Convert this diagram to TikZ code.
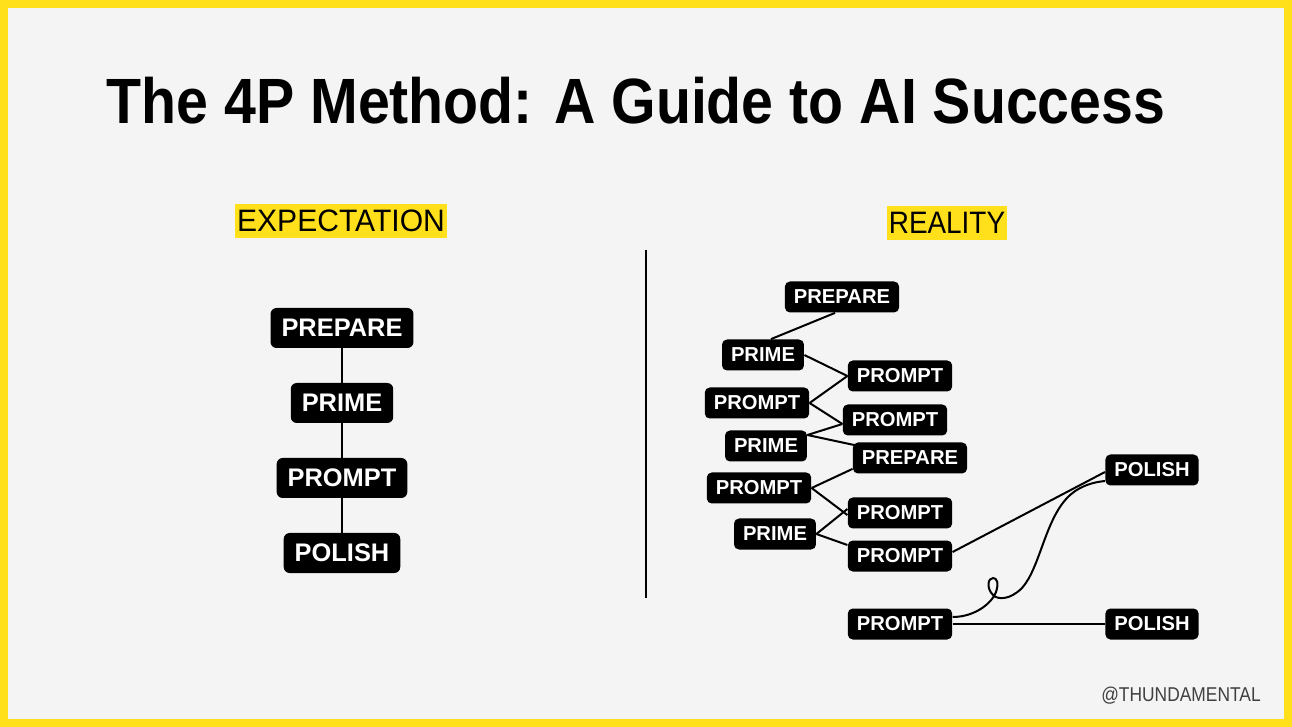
\documentclass[tikz,border=0pt]{standalone}
\usepackage{fontspec}
\setmainfont{Liberation Sans}
\usepackage{tikz}
\usetikzlibrary{positioning}
\definecolor{hlyellow}{HTML}{FFE01B}
\definecolor{bggray}{HTML}{F4F4F4}

\begin{document}
\begin{tikzpicture}[x=0.5pt, y=0.5pt,
    bigstep/.style={fill=black, text=white, rounded corners=3pt, font=\bfseries\fontsize{12.7}{14}\selectfont,
      minimum height=20pt, inner xsep=5.5pt, inner ysep=0pt},
    smallstep/.style={fill=black, text=white, rounded corners=2.5pt, font=\bfseries\fontsize{10.1}{12}\selectfont,
      minimum height=15.5pt, inner xsep=4.5pt, inner ysep=0pt},
    link/.style={line width=1pt},
    tag/.style={fill=hlyellow, font=\fontsize{15.5}{19}\selectfont, inner xsep=1pt, inner ysep=3pt}]
		% Frame and background
		\fill[hlyellow] (0,0) rectangle (1292,-727);
		\fill[bggray] (8,-8) rectangle (1284,-719);
		\useasboundingbox (0,0) rectangle (1292,-727);

		\node (title) at (636,-101) {\scalebox{0.895}[1]{\bfseries\fontsize{32}{38}\selectfont The 4P Method: A Guide to AI Success}};

		% Expectation
		\node (expect) at (341,-221) [tag] {\scalebox{0.97}[1]{EXPECTATION}};
		\node (lprep) at (342,-328) [bigstep] {PREPARE};
		\node (lprime) at (342,-403) [bigstep] {PRIME};
		\node (lprompt) at (342,-478) [bigstep] {PROMPT};
		\node (lpolish) at (342,-553) [bigstep] {POLISH};
		\draw[link] (lprep) -- (lprime);
		\draw[link] (lprime) -- (lprompt);
		\draw[link] (lprompt) -- (lpolish);

		% Divider
		\coordinate (divtop) at (646,-250);
		\coordinate (divbot) at (646,-598);
		\draw[link] (divtop) -- (divbot);

		% Reality
		\node (real) at (947,-223) [tag] {\scalebox{0.9}[1]{REALITY}};
		\node (prepA) at (842,-297) [smallstep] {PREPARE};
		\node (primeA) at (763,-355) [smallstep] {PRIME};
		\node (promptA) at (900,-376) [smallstep] {PROMPT};
		\node (promptB) at (757,-403) [smallstep] {PROMPT};
		\node (promptC) at (895,-420) [smallstep] {PROMPT};
		\node (primeB) at (766,-446) [smallstep] {PRIME};
		\node (prepB) at (910,-458) [smallstep] {PREPARE};
		\node (promptD) at (759,-488) [smallstep] {PROMPT};
		\node (promptE) at (900,-513) [smallstep] {PROMPT};
		\node (primeC) at (775,-534) [smallstep] {PRIME};
		\node (promptF) at (900,-556) [smallstep] {PROMPT};
		\node (polishA) at (1152,-470) [smallstep] {POLISH};
		\node (promptG) at (900,-624) [smallstep] {PROMPT};
		\node (polishB) at (1152,-624) [smallstep] {POLISH};

		\draw[link] ([xshift=-3.5pt]prepA.south) -- ([xshift=4pt]primeA.north);
		\draw[link] (primeA.east) -- (promptA.west);
		\draw[link] (promptB.east) -- (promptA.west);
		\draw[link] (promptB.east) -- ([yshift=-2pt]promptC.west);
		\draw[link] ([yshift=5.5pt]primeB.east) -- ([yshift=-2pt]promptC.west);
		\draw[link] ([yshift=5.5pt]primeB.east) -- ([xshift=1pt,yshift=-1.5pt]prepB.north west);
		\draw[link] (promptD.east) -- ([yshift=2.5pt]prepB.south west);
		\draw[link] (promptD.east) -- ([yshift=-1pt]promptE.west);
		\draw[link] (primeC.east) -- ([yshift=2pt]promptE.west);
		\draw[link] (primeC.east) -- ([yshift=5.5pt]promptF.west);
		\draw[link] ([yshift=2pt]promptF.east) -- ([yshift=-1pt]polishA.west);
		\draw[link] (promptG.east) -- (polishB.west);
		% the messy loop
		\draw[link] ([yshift=3.5pt]promptG.east) .. controls (975,-617) and (992,-603) .. (996,-592)
			.. controls (999,-583) and (997,-578) .. (993,-578)
			.. controls (988,-578) and (986,-588) .. (993,-595)
			.. controls (998,-600) and (1010,-600) .. (1022,-588)
			.. controls (1040,-568) and (1045,-520) .. (1068,-497)
			.. controls (1080,-485) and (1095,-482) .. ([yshift=-5.5pt]polishA.west);

		\node (handle) at (1181,-696) [text=black!75, font=\fontsize{10}{12}\selectfont] {\scalebox{0.87}[1]{@THUNDAMENTAL}};
	\end{tikzpicture}
\end{document}
